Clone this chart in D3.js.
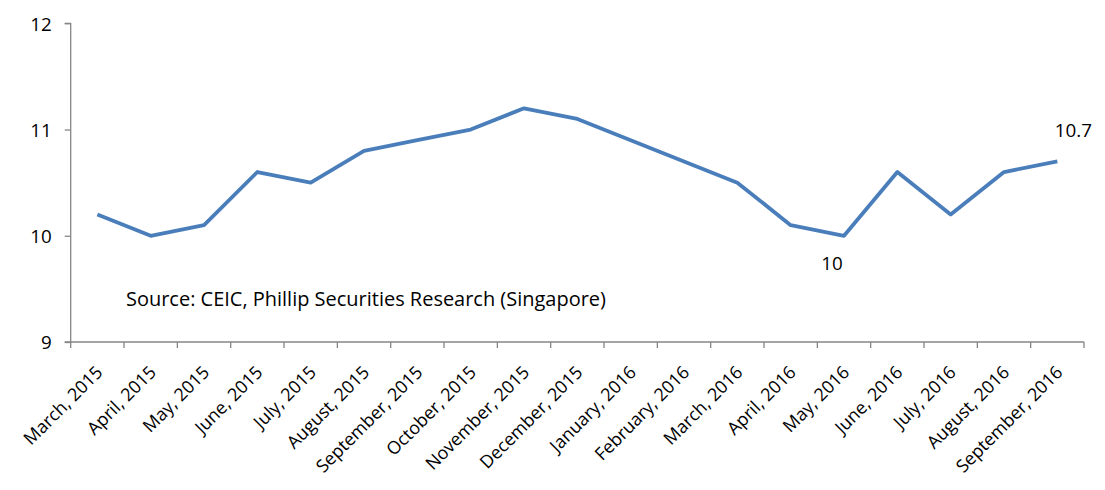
<!DOCTYPE html>
<html><head><meta charset="utf-8">
<script src="https://cdn.jsdelivr.net/npm/d3@7"></script>
<style>body{margin:0;background:#fff}svg{display:block}text{font-family:"Open Sans",sans-serif;fill:#000}</style>
</head><body>
<svg id="c" width="1105" height="490"></svg>
<script>
const categories = ["March, 2015","April, 2015","May, 2015","June, 2015","July, 2015","August, 2015","September, 2015","October, 2015","November, 2015","December, 2015","January, 2016","February, 2016","March, 2016","April, 2016","May, 2016","June, 2016","July, 2016","August, 2016","September, 2016"];
const values = [10.2,10.0,10.1,10.6,10.5,10.8,10.9,11.0,11.2,11.1,10.9,10.7,10.5,10.1,10.0,10.6,10.2,10.6,10.7];
const yTicks = [9,10,11,12];
const labeled = [{i:14, text:"10"}, {i:18, text:"10.7"}];
const source = "Source: CEIC, Phillip Securities Research (Singapore)";

const svg = d3.select("#c");
const L = 70.7, R = 1084, T = 23.3, B = 342;
const x = d3.scaleBand().domain(categories).range([L, R]);
const y = d3.scaleLinear().domain([9, 12]).range([B, T]);
const cx = d => x(d) + x.bandwidth()/2;

function fitSize(str, target, base) {
  const t = svg.append("text").style("font-size", base + "px").text(str);
  const w = t.node().getComputedTextLength();
  t.remove();
  return base * target / w;
}
const tickFs = fitSize("12", 21.5, 16);
const xFs = fitSize("September, 2015", 142, 16);
const srcFs = fitSize(source, 480, 18);

// y axis
const ya = svg.append("g").attr("transform", `translate(${L},0)`)
  .call(d3.axisLeft(y).tickValues(yTicks).tickSize(6).tickPadding(13).tickFormat(d3.format("d")));
ya.select(".domain").attr("stroke", "#868686").attr("stroke-width", 1.3).attr("d", `M-6,${B}H0V${T}H-6`);
ya.selectAll(".tick line").attr("stroke", "#868686").attr("stroke-width", 1.3);
ya.selectAll(".tick text").style("font-size", tickFs + "px").attr("fill", "#000").attr("dy", "0.36em");

// x axis
const xa = svg.append("g").attr("transform", `translate(0,${B})`)
  .call(d3.axisBottom(x).tickSize(0).tickFormat(d => d));
xa.select(".domain").attr("stroke", "#868686").attr("stroke-width", 1.3).attr("d", `M${L},0H${R}`);
const bounds = categories.map(c => x(c)).concat([R]);
xa.selectAll(".bt").data(bounds).join("line").attr("class", "bt")
  .attr("x1", d => d).attr("x2", d => d).attr("y1", 0).attr("y2", 6)
  .attr("stroke", "#868686").attr("stroke-width", 1.3);
xa.selectAll(".tick text")
  .style("font-size", xFs + "px")
  .attr("text-anchor", "end")
  .attr("y", 0).attr("dy", "0.35em")
  .attr("transform", `translate(2,27) rotate(-45)`);

// line
svg.append("path")
  .datum(values)
  .attr("fill", "none").attr("stroke", "#4a7ebb").attr("stroke-width", 3.8)
  .attr("stroke-linejoin", "round")
  .attr("d", d3.line().x((d, i) => cx(categories[i])).y(d => y(d)));

// data labels
svg.append("text").attr("x", cx(categories[labeled[0].i]) - 12).attr("y", y(values[labeled[0].i]) + 34)
  .attr("text-anchor", "middle").style("font-size", tickFs + "px").text(labeled[0].text);
svg.append("text").attr("x", cx(categories[labeled[1].i]) + 16).attr("y", y(values[labeled[1].i]) - 24)
  .attr("text-anchor", "middle").style("font-size", tickFs + "px").text(labeled[1].text);

// source
svg.append("text").attr("x", 126).attr("y", 306).style("font-size", srcFs + "px").text(source);
</script>
</body></html>
